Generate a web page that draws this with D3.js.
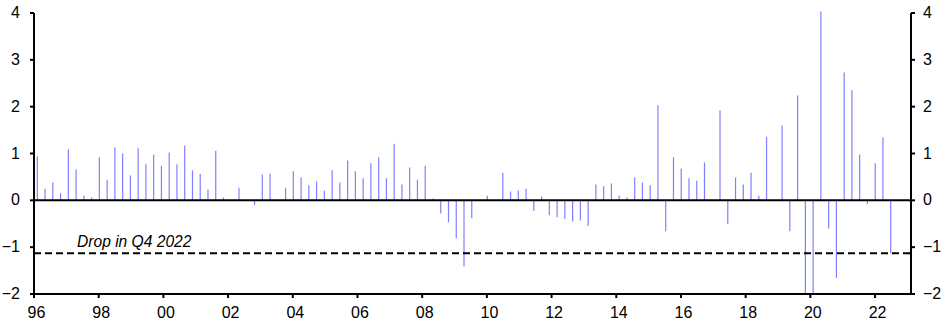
<!DOCTYPE html>
<html><head><meta charset="utf-8">
<script src="https://cdn.jsdelivr.net/npm/d3@7"></script>
<style>
body{margin:0;background:#fff}
text{font-family:Arial,"Liberation Sans",sans-serif;fill:#000}
</style>
</head><body>
<svg id="c" width="946" height="325"></svg>
<script>
// Quarterly values, 1995 Q2 .. 2022 Q4
const values = [
 0.94, 0.25, 0.38, 0.15, 1.09, 0.66, 0.10, 0.06, 0.92, 0.44,
 1.13, 1.00, 0.53, 1.11, 0.77, 0.98, 0.74, 1.02, 0.77, 1.17,
 0.64, 0.57, 0.23, 1.06, 0.06, 0.00, 0.27, 0.00, -0.10, 0.55,
 0.57, 0.00, 0.27, 0.62, 0.49, 0.32, 0.40, 0.21, 0.64, 0.38,
 0.85, 0.62, 0.47, 0.79, 0.92, 0.47, 1.21, 0.34, 0.70, 0.44,
 0.74, 0.04, -0.28, -0.47, -0.81, -1.41, -0.38, 0.00, 0.10, 0.00,
 0.59, 0.19, 0.21, 0.25, -0.23, 0.08, -0.32, -0.36, -0.40, -0.45,
 -0.43, -0.55, 0.34, 0.30, 0.36, 0.10, 0.06, 0.49, 0.38, 0.32,
 2.03, -0.66, 0.92, 0.68, 0.47, 0.42, 0.81, 0.00, 1.92, -0.51,
 0.49, 0.34, 0.59, 0.10, 1.36, 0.00, 1.60, -0.66, 2.24, -2.50,
 -9.00, 4.60, -0.60, -1.66, 2.73, 2.35, 0.98, -0.08, 0.79, 1.34,
 -1.13
];
const startYear = 1995, startQuarter = 2;
const quarters = values.map((v, i) => {
  const t = startYear * 4 + (startQuarter - 1) + i;
  return Math.floor(t / 4) + " Q" + (t % 4 + 1);
});
const yTicks = [-2, -1, 0, 1, 2, 3, 4];
const yearTicks = [1996, 1998, 2000, 2002, 2004, 2006, 2008, 2010, 2012, 2014, 2016, 2018, 2020, 2022];
const yearLabels = ["96", "98", "00", "02", "04", "06", "08", "10", "12", "14", "16", "18", "20", "22"];
const dropValue = -1.13;
const annotation = "Drop in Q4 2022";

const svg = d3.select("#c");
const L = 34, R = 911, T = 13, B = 294;

const y = d3.scaleLinear().domain([-2, 4]).range([B, T]);
const xYear = d3.scaleLinear().domain([1996, 2023]).range([L, 907.4]);
const xq = d3.scalePoint().domain(quarters).range([37.3, 890.7]);

svg.append("defs").append("clipPath").attr("id", "plot")
  .append("rect").attr("x", L).attr("y", T - 1.5).attr("width", R - L).attr("height", B - T + 1.5);

// bars
svg.append("g").attr("clip-path", "url(#plot)")
  .selectAll("line").data(values.map((v, i) => ({q: quarters[i], v})).filter(d => d.v !== 0))
  .join("line")
  .attr("x1", d => xq(d.q)).attr("x2", d => xq(d.q))
  .attr("y1", y(0)).attr("y2", d => y(d.v))
  .attr("stroke", "#7f7fff").attr("stroke-width", 1.2);

// zero line
svg.append("line").attr("x1", L).attr("x2", R).attr("y1", y(0)).attr("y2", y(0))
  .attr("stroke", "#000").attr("stroke-width", 2);

// dashed drop line
svg.append("line").attr("x1", L).attr("x2", R).attr("y1", y(dropValue)).attr("y2", y(dropValue))
  .attr("stroke", "#000").attr("stroke-width", 2).attr("stroke-dasharray", "7,4");

svg.append("text").attr("x", 77).attr("y", y(dropValue) - 6)
  .attr("font-size", 15.6).attr("font-style", "italic").text(annotation);

// axes
function styleAxis(g) {
  g.select(".domain").attr("stroke", "#000").attr("stroke-width", 2);
  g.selectAll(".tick line").attr("stroke", "#000").attr("stroke-width", 2);
  g.selectAll(".tick text").attr("fill", "#000")
    .attr("font-family", "Arial, 'Liberation Sans', sans-serif").attr("font-size", 16);
}

svg.append("g").attr("transform", `translate(${L},0)`)
  .call(d3.axisLeft(y).tickValues(yTicks).tickSize(4).tickSizeOuter(0).tickPadding(10).offset(0).tickFormat(d3.format("d")))
  .call(styleAxis);

svg.append("g").attr("transform", `translate(${R},0)`)
  .call(d3.axisRight(y).tickValues(yTicks).tickSize(4).tickSizeOuter(0).tickPadding(8).offset(0).tickFormat(d3.format("d")))
  .call(styleAxis);

const xb = svg.append("g").attr("transform", `translate(0,${B})`)
  .call(d3.axisBottom(xYear).tickValues(yearTicks).tickSize(4).tickSizeOuter(0).offset(0)
    .tickFormat((d, i) => yearLabels[i]))
  .call(styleAxis);
xb.select(".domain").attr("d", `M${L},0H${R}`);
xb.selectAll(".tick text").attr("y", 24).attr("dy", 0).attr("dx", 2.5);
</script>
</body></html>
